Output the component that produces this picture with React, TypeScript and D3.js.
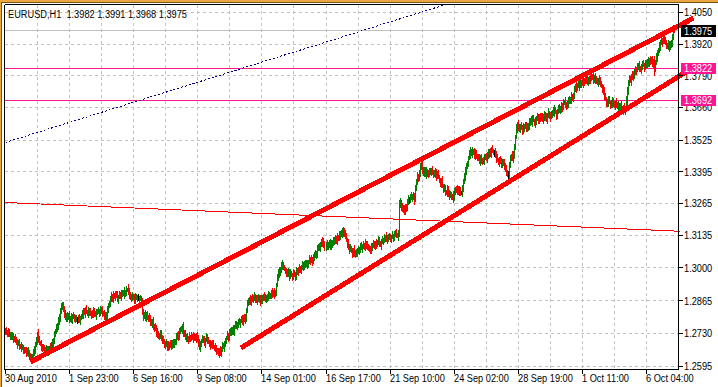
import React from "react";
import * as d3 from "d3";

// ---------- data (prices in pips above BASE) ----------
const SYMBOL = "EURUSD,H1";
const BASE = 1.25;
const PIP = 0.0001;
const WICK_UNIT = 0.0003; // wick arrays are in units of 3 pips
const FIRST_OPEN = 245;

const closePips: number[] = [
  242, 236, 240, 231, 226, 229, 218, 222, 212, 205, 209, 198, 190, 194, 183, 178,
  172, 176, 168, 161, 165, 155, 150, 158, 142, 135, 128, 140, 152, 170, 185, 200, 232,
  210, 195, 188, 180, 172, 176, 168, 164, 170, 160, 166, 175, 171, 185, 196, 205,
  225, 240, 262, 255, 280, 300, 322, 345, 350, 330, 312, 300, 308,
  296, 304, 292, 298, 290, 300, 305, 296, 288, 293, 293, 291, 286, 295,
  305, 312, 325, 318, 330, 322, 315, 326, 320, 312, 318, 309, 322, 316, 310, 318,
  321, 327, 318, 324, 330, 319, 314, 305, 296, 312, 330, 345,
  360, 372, 385, 378, 390, 382, 395, 388, 376, 384, 392, 385, 396, 402, 394, 405, 398,
  410, 418, 406, 395, 382, 376, 388, 380, 372, 378, 383, 376, 376, 374, 378,
  360, 318, 300, 308, 295, 312, 302, 290, 298, 285, 272, 280, 262, 250, 258, 240, 232,
  225, 218, 228, 215, 210, 200, 192, 185, 195, 180, 176, 188, 182, 190, 198, 186, 194, 202,
  215, 228, 222, 240, 252, 246, 258, 240, 228, 216, 224, 210, 205, 218, 212,
  220, 212, 225, 218, 214, 205, 220, 196, 175, 190,
  // i196
  200, 210, 204, 195, 208, 215, 206, 198, 190, 184, 192, 186, 178, 170, 176,
  165, 158, 150, 162, 155, 168, 180, 175, 190, 202, 212, 225, 218, 232, 245,
  238, 250, 244, 258, 265, 272, 266, 280, 275, 285, 290, 282, 296, 288, 300,
  330, 352, 365, 372, 366, 380, 372, 378, 385, 375, 368, 376, 382, 370, 364,
  372, 380, 388, 376, 370, 378, 386, 392, 384, 390, 398, 392, 402, 395, 405,
  430, 462, 488, 480, 495, 510, 520, 505, 498, 490, 482, 475, 488, 470, 478,
  472, 465, 480, 474, 468, 485, 492, 488, 500, 496, 505, 512, 506, 518, 514,
  522, 516, 528, 535, 530, 540, 532, 546, 555, 550, 565, 578, 590, 585, 600,
  612, 598, 605, 590, 596, 588, 600, 594, 606, 598, 610, 604, 618, 625, 615,
  628, 622, 635, 645, 638, 650, 660, 642, 630, 618, 600, 588, 578, 585, 570,
  562, 575, 568, 556, 564, 572, 580, 576, 588, 582, 590, 598, 592, 604, 596,
  588, 580, 586, 578, 584, 592, 600, 596, 605, 598, 606, 612, 604, 598, 610,
  618, 612, 622, 628, 620, 626, 632, 624, 618, 628, 635, 628, 640, 646, 638,
  632, 645,
  // i393
  760, 775, 752, 740, 748, 738, 755, 746, 770, 785, 785, 795, 788, 800, 792, 782,
  830, 860, 875, 868, 895, 915, 928, 905, 890,
  898, 888, 902, 895, 885, 892, 900, 906, 894, 886, 898, 890, 880, 888, 876,
  862, 850, 858, 838, 825, 832, 815, 808, 822, 812, 800, 806, 795, 788, 798,
  812, 826, 818, 832, 822, 815, 808, 808, 830, 858, 880, 902, 918, 930,
  955, 968, 978, 972, 985, 976, 966, 974, 962, 958,
  950, 942, 955, 948, 938, 946, 958, 964, 952, 960,
  970, 982, 975, 990, 984, 976, 976, 968, 955, 946, 938, 948, 936, 928, 940, 932,
  918, 905, 895, 885, 885, 925, 948, 962, 955, 968, 1000, 1040, 1075, 1090,
  1080, 1072, 1086, 1078, 1068, 1076, 1084, 1092, 1082, 1074,
  1088, 1098, 1110, 1102, 1118, 1108, 1096, 1104, 1115, 1122, 1112, 1126, 1118,
  1120, 1110, 1125, 1132, 1120, 1112, 1128, 1138, 1130, 1122,
  1135, 1145, 1138, 1150, 1142, 1132, 1145, 1155, 1148, 1160,
  1170, 1162, 1178, 1185, 1175, 1168, 1180, 1192, 1186, 1195,
  1205, 1198, 1215, 1232, 1248, 1240, 1255, 1262, 1250, 1258,
  1268, 1260, 1272, 1265, 1278, 1270, 1262, 1275, 1285, 1280,
  1290, 1282, 1276, 1288, 1280, 1270, 1262, 1275, 1268, 1258,
  1250, 1240, 1225, 1210, 1198, 1185, 1176, 1190, 1182, 1172,
  1180, 1188, 1176, 1168, 1182, 1175, 1165, 1172, 1160, 1168,
  1158, 1150, 1162, 1148, 1155, 1190, 1230, 1265, 1280, 1272, 1290, 1284, 1296,
  1308, 1320, 1315, 1328, 1334, 1325, 1318, 1330, 1340, 1335, 1326, 1338, 1345, 1336,
  1348, 1356, 1350, 1358, 1346, 1352, 1320, 1345, 1368, 1385, 1400, 1412,
  1428, 1438, 1432, 1444, 1436, 1425, 1418, 1410, 1422, 1408, 1415, 1426,
  1452, 1482, 1475,
];

const wickUp: number[] = [
  3,5,2,4,6,3,2,5,4,3,6,2,4,3,5,2,6,4,3,2,
  4,3,5,6,2,3,4,2,5,3,4,6,3,6,4,2,5,3,4,2,
  2,4,3,5,2,6,3,4,2,5,3,2,4,6,3,5,2,4,3,5,
  5,2,4,3,6,2,5,3,4,2,3,5,2,4,6,3,2,5,4,3,
  3,6,2,4,3,5,2,3,6,4,2,5,3,4,2,6,3,5,2,4,
  4,2,5,3,2,4,6,3,5,2,4,3,6,2,5,3,4,2,3,5,
  2,5,3,6,4,2,3,5,2,4,6,3,2,5,3,4,2,6,4,3,
  6,3,4,2,5,3,2,4,6,3,5,2,4,3,2,5,6,3,4,2,
  3,4,2,6,3,5,4,2,3,5,2,6,3,4,5,2,3,4,6,2,
  5,2,3,4,6,2,5,3,4,2,3,6,5,2,4,3,2,5,3,6,
  2,6,4,3,2,5,3,4,6,2,5,3,2,4,3,6,2,5,4,3,
  4,3,5,2,6,3,4,2,5,3,6,4,2,3,5,2,4,6,3,5,
  3,2,6,4,3,5,2,4,3,6,2,5,4,3,2,6,5,3,2,4,
  6,4,2,5,3,2,4,6,3,5,2,3,4,2,6,3,5,4,2,3,
  2,3,5,4,2,6,3,2,5,4,3,6,2,4,5,3,2,6,4,3,
  5,4,3,2,6,3,5,2,4,3,6,2,5,3,4,2,3,5,6,2,
  3,6,2,5,4,3,2,6,3,4,2,5,3,6,2,4,5,3,2,4,
  4,2,6,3,5,2,4,3,6,2,5,4,3,2,5,6,3,4,2,5,
  2,5,4,3,2,6,4,5,3,2,4,3,6,5,2,3,4,2,6,3,
  6,3,2,4,5,3,6,2,4,3,5,2,3,6,4,2,5,3,4,2,
  3,4,5,2,3,6,2,4,5,3,2,6,4,3,5,2,4,3,6,5,
  5,2,3,6,4,2,5,3,2,4,6,3,5,2,3,4,6,2,5,3,
  2,6,5,3,4,2,3,6,5,2,4,3,2,5,6,3,4,2,3,4,
  4,3,2,5,6,3,4,2,6,5,3,2,4,6,3,5,2,4,3,2,
  3,5,6,2,4,3,5,2,3,6,4,5,2,3,4,6,3,2,5,4,
  6,2,4,3,5,2,6,4,3,2,5,3,6,4,2,5,3,6,2,3,
  2,4,3,6,2,5,3,4,2,6,3,5,4,2,3,6,5,2,4,3,
  5,3,6,2,4,3,2,5,6,4,2,3,5,6,2,4,3,5,2,6,
  3,2,4,5,3,6,4,2,5,3,6,2,4,3,5,2,6,4,3,5,
  4,6,3,2,5,4,3,6,2,5,3,4,2,6,5,3,2,4,6,3,
  2,3,5,6,2,4,5,3,4,2,6,3,5,2,4,6,3,2,5,4,
  6,5,2,4,3,2,6,5,3,4,2,5,3,6,2,3,4,5,2,6,
  3,4,6,2,5,3,4,2,6,3,5,4,2,5,3,6,2,4,3,5,
  4,2,5,3,6,4,3,5,2,
];

const wickDown: number[] = [
  4,2,5,3,2,6,4,3,5,2,3,4,6,2,5,3,4,2,6,3,
  2,5,3,4,6,3,2,5,4,3,6,2,4,5,3,2,6,4,3,5,
  5,3,2,6,4,2,5,3,6,4,2,3,5,2,4,6,3,5,2,4,
  3,6,4,2,5,3,4,6,2,5,3,2,6,4,3,5,2,4,6,2,
  6,2,3,5,4,2,6,3,4,5,2,6,3,2,5,4,3,6,2,5,
  2,4,6,3,2,5,3,4,6,2,5,3,4,6,2,3,5,4,2,6,
  4,3,2,5,6,3,4,2,3,6,5,2,4,3,6,2,5,3,4,2,
  3,5,4,2,3,6,2,5,4,3,2,6,5,4,3,2,4,6,3,5,
  5,2,6,4,3,2,5,6,3,4,2,5,3,6,4,3,2,5,6,3,
  2,6,3,5,2,4,3,2,6,5,4,3,2,5,3,6,4,2,3,4,
  6,3,5,2,4,6,3,5,2,3,4,6,3,2,5,4,6,3,2,5,
  3,4,2,6,5,2,4,3,5,6,2,4,5,3,2,6,3,4,5,2,
  5,6,3,2,4,5,6,2,4,3,5,2,6,4,3,5,2,6,4,3,
  2,3,4,6,2,3,5,4,2,6,3,5,2,4,6,3,4,5,3,2,
  4,5,2,3,6,4,2,5,3,2,6,4,3,5,2,4,6,3,5,4,
  3,2,6,4,3,5,2,6,4,5,2,3,6,2,4,5,3,2,4,6,
  6,4,3,2,5,6,4,3,2,5,4,6,2,3,5,2,4,6,3,2,
  2,5,4,6,3,2,5,4,6,3,2,5,4,6,3,2,5,3,4,6,
  5,3,2,4,6,5,3,2,4,6,5,2,3,4,2,6,3,5,2,4,
  3,6,5,2,3,4,2,6,5,3,4,2,6,5,3,4,2,3,6,5,
  4,2,3,6,5,2,4,3,6,2,3,5,4,2,6,3,5,2,4,3,
  6,5,4,3,2,6,3,4,2,5,6,4,2,3,5,6,2,4,3,5,
  2,4,6,5,3,4,2,5,6,3,2,4,6,5,3,2,4,5,3,6,
  5,3,4,2,6,3,5,2,4,6,3,5,2,4,6,5,3,2,6,4,
  3,6,2,4,5,6,2,3,5,4,6,2,3,6,2,4,5,3,4,2,
  4,2,5,6,3,2,4,6,5,3,2,6,4,3,5,2,6,4,5,3,
  6,3,2,5,4,3,6,2,3,5,4,2,6,5,4,3,2,5,6,4,
  2,5,3,4,6,2,5,3,4,2,6,5,3,2,4,6,5,3,2,4,
  5,4,6,3,2,5,3,4,6,2,5,3,4,6,2,5,3,6,4,2,
  3,2,4,5,6,3,2,5,4,6,3,2,5,4,3,2,6,4,5,3,
  6,4,3,2,5,4,6,3,2,5,4,3,6,2,5,4,2,6,3,5,
  2,6,5,4,3,6,2,4,5,3,6,2,4,5,3,6,4,2,5,3,
  4,3,2,6,4,2,5,6,3,4,2,6,3,4,5,2,6,3,4,2,
  5,2,4,6,3,2,5,3,4,
];

// explicit highs / lows: [bar, high, low] (pips, null = keep)
const extremes: [number, number | null, number | null][] = [
  [32, 238, null],
  [56, 357, null],
  [122, 419, null],
  [648, null, 1295],
  [668, 1491, 1468],
];

const priceTicks = [1.405, 1.392, 1.379, 1.366, 1.3525, 1.3395, 1.3265, 1.3135, 1.3, 1.2865, 1.273, 1.2595];
const timeLabels = [
  "30 Aug 2010", "1 Sep 23:00", "6 Sep 16:00", "9 Sep 08:00", "14 Sep 01:00",
  "16 Sep 17:00", "21 Sep 10:00", "24 Sep 02:00", "28 Sep 19:00", "1 Oct 11:00", "6 Oct 04:00",
];
const LABEL_EVERY = 64;
const GRID_EVERY = 32;
const levels = [1.3822, 1.3692];
const trendThick: [number, number, number, number][] = [
  [25, 1.2614, 687, 1.4027],
  [235, 1.2671, 687, 1.3825],
];
const trendDotted: [number, number, number, number] = [0, 1.3516, 442, 1.4086];
const trendThin: [number, number, number, number] = [0, 1.3269, 673, 1.3151];

// ---------- build bars ----------
type Bar = { i: number; o: number; h: number; l: number; c: number };
const bars: Bar[] = closePips.map((cp, i) => {
  const o = BASE + (i === 0 ? FIRST_OPEN : closePips[i - 1]) * PIP;
  const c = BASE + cp * PIP;
  let h = Math.max(o, c) + wickUp[i] * WICK_UNIT;
  let l = Math.min(o, c) - wickDown[i] * WICK_UNIT;
  const ex = extremes.find((e) => e[0] === i);
  if (ex) {
    if (ex[1] != null) h = BASE + ex[1] * PIP;
    if (ex[2] != null) l = BASE + ex[2] * PIP;
  }
  return { i, o, h, l, c };
});

const FONT = "'Liberation Sans', Arial, sans-serif";
const SQUEEZE = 0.84;

function T({ x, y, children, fill = "#000" }: { x: number; y: number; children: React.ReactNode; fill?: string }) {
  return (
    <text
      transform={`translate(${x},${y}) scale(${SQUEEZE},1)`}
      fontSize={11}
      dominantBaseline="central"
      fill={fill}
      style={{ whiteSpace: "pre" }}
    >
      {children}
    </text>
  );
}

export default function App() {
  const W = 718, H = 387;
  const left = 4.5, right = 678.5, top = 4.5, bottom = 369.5;
  const x = d3.scaleLinear().domain([0, 640]).range([5.5, 646.5]);
  const y = d3.scaleLinear().domain([1.2595, 1.405]).range([366.5, 12.5]);
  const snap = (v: number) => Math.round(v - 0.5) + 0.5;
  const last = bars[bars.length - 1];
  const fmt = d3.format(".4f");

  const gridCols = d3.range(GRID_EVERY, 672, GRID_EVERY);
  const lineGen = d3.line<[number, number]>().x((d) => x(d[0])).y((d) => y(d[1]));

  return (
    <svg width={W} height={H} style={{ position: "absolute", left: 0, top: 0, background: "#fff" }} fontFamily={FONT}>
      <rect x={0} y={0} width={W} height={H} fill="#ffffff" />
      {/* window frame */}
      <rect x={0} y={0} width={W} height={2} fill="#eea640" />
      <rect x={0} y={2} width={W} height={1} fill="#7b5518" />
      <rect x={0} y={0} width={1} height={H} fill="#eea640" />
      <rect x={1} y={2} width={1} height={H} fill="#7b5518" />

      {/* grid */}
      <g stroke="#c0c0c0" strokeDasharray="3,3" shapeRendering="crispEdges">
        {priceTicks.map((p) => (
          <line key={"h" + p} x1={left} x2={right} y1={snap(y(p))} y2={snap(y(p))} />
        ))}
        {gridCols.map((i) => (
          <line key={"v" + i} x1={snap(x(i))} x2={snap(x(i))} y1={top} y2={bottom} />
        ))}
      </g>
      {/* bid line */}
      <line x1={left} x2={right} y1={snap(y(last.c))} y2={snap(y(last.c))} stroke="#c0c0c0" shapeRendering="crispEdges" />

      {/* horizontal levels */}
      {levels.map((p) => (
        <rect key={"lv" + p} x={5} y={Math.round(y(p))} width={673} height={1} fill="#ff1493" />
      ))}

      {/* thin trend line */}
      <path d={lineGen([[trendThin[0], trendThin[1]], [trendThin[2], trendThin[3]]]) || ""} stroke="#ff0000" fill="none" shapeRendering="crispEdges" />
      {/* dotted trend line */}
      <path d={lineGen([[trendDotted[0], trendDotted[1]], [trendDotted[2], trendDotted[3]]]) || ""} stroke="#000080" strokeDasharray="2,2" fill="none" shapeRendering="crispEdges" />

      {/* bars */}
      <g shapeRendering="crispEdges">
        {bars.map((b) => {
          const col = b.c > b.o + 1e-9 ? "#008000" : b.c < b.o - 1e-9 ? "#ff0000" : "#000000";
          const yt = Math.round(y(b.h));
          const yb = Math.round(y(b.l));
          return <rect key={b.i} x={Math.floor(x(b.i))} y={yt} width={1} height={Math.max(1, yb - yt + 1)} fill={col} />;
        })}
      </g>

      {/* thick channel lines */}
      {trendThick.map((t, k) => (
        <path key={"tt" + k} d={lineGen([[t[0], t[1]], [t[2], t[3]]]) || ""} stroke="#ff0000" strokeWidth={5} fill="none" shapeRendering="crispEdges" />
      ))}

      {/* chart border */}
      <g stroke="#000" shapeRendering="crispEdges">
        <line x1={left} x2={left} y1={top} y2={bottom} />
        <line x1={left} x2={right} y1={top} y2={top} />
        <line x1={left} x2={right} y1={bottom} y2={bottom} />
        <line x1={right} x2={right} y1={top - 1} y2={bottom} />
      </g>

      {/* header */}
      <T x={8} y={14}>{`${SYMBOL}  ${fmt(last.o)} ${fmt(last.h)} ${fmt(last.l)} ${fmt(last.c)}`}</T>

      {/* price axis */}
      {priceTicks.map((p) => (
        <g key={"pt" + p}>
          <line x1={right} x2={right + 4} y1={snap(y(p))} y2={snap(y(p))} stroke="#000" shapeRendering="crispEdges" />
          <T x={684} y={y(p)}>{fmt(p)}</T>
        </g>
      ))}
      {levels.map((p) => (
        <g key={"lb" + p}>
          <rect x={681} y={Math.round(y(p)) - 5} width={35} height={11} fill="#ff1493" />
          <T x={684} y={y(p) + 0.5} fill="#fff">{fmt(p)}</T>
        </g>
      ))}
      <g>
        <rect x={681} y={Math.round(y(last.c)) - 6} width={35} height={12} fill="#000" />
        <T x={684} y={y(last.c) + 0.5} fill="#fff">{fmt(last.c)}</T>
      </g>

      {/* time axis */}
      {timeLabels.map((t, k) => {
        const xi = snap(x(k * LABEL_EVERY));
        return (
          <g key={"tl" + k}>
            <line x1={xi} x2={xi} y1={bottom} y2={bottom + 4} stroke="#000" shapeRendering="crispEdges" />
            <T x={xi - 0.5} y={378.5}>{t}</T>
          </g>
        );
      })}
    </svg>
  );
}
